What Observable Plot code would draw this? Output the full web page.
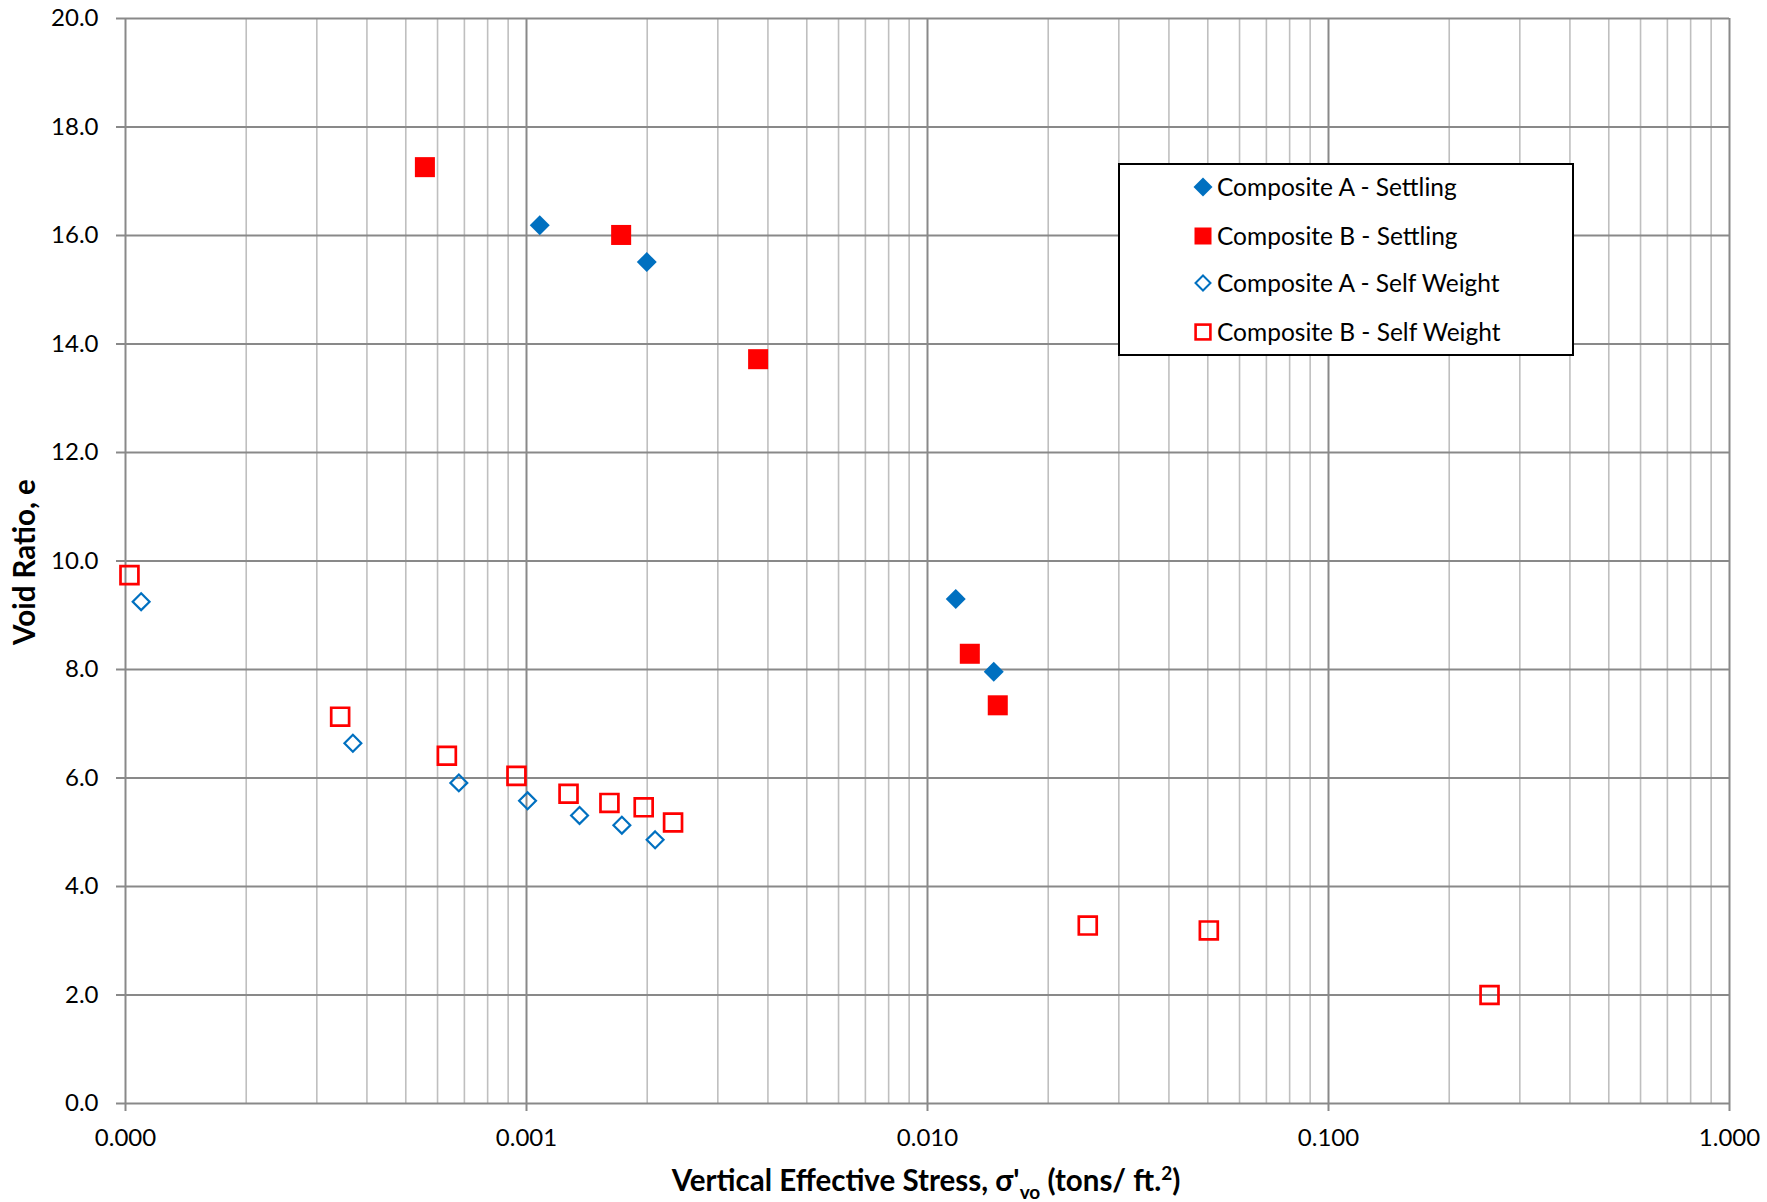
<!DOCTYPE html>
<html><head><meta charset="utf-8">
<script src="https://cdn.jsdelivr.net/npm/d3@7"></script>
<script src="https://cdn.jsdelivr.net/npm/@observablehq/plot@0.6"></script>
<style>
body{margin:0;background:#fff;}
#chart{position:relative;width:1767px;height:1202px;font-family:Lato,"Open Sans",sans-serif;}
#legend{position:absolute;left:1118px;top:163px;width:456px;height:193px;box-sizing:border-box;border:2px solid #000;background:#fff;}
.lrow{position:absolute;left:0;height:0;}
.lrow svg{position:absolute;left:72px;top:-11px;}
.lrow span{position:absolute;left:97px;top:-16px;font-size:24.5px;line-height:32px;white-space:nowrap;color:#000;}
</style></head><body><div id="chart"></div>
<script>
// Composite A - Settling
const aSetX = [0.001079, 0.001995, 0.01176, 0.01463];
const aSetY = [16.19, 15.51, 9.30, 7.96];
// Composite B - Settling
const bSetX = [0.000558, 0.001722, 0.003781, 0.01275, 0.01497];
const bSetY = [17.26, 16.01, 13.72, 8.29, 7.34];
// Composite A - Self Weight
const aSwX = [0.0001094, 0.000369, 0.000678, 0.001006, 0.001356, 0.001729, 0.002093];
const aSwY = [9.25, 6.64, 5.91, 5.58, 5.31, 5.13, 4.86];
// Composite B - Self Weight
const bSwX = [0.0001023, 0.000343, 0.000633, 0.000944, 0.001273, 0.00161, 0.00196, 0.00232, 0.0251, 0.0503, 0.2521];
const bSwY = [9.74, 7.13, 6.41, 6.04, 5.71, 5.54, 5.46, 5.18, 3.28, 3.19, 2.00];

const seriesNames = ["Composite A - Settling", "Composite B - Settling", "Composite A - Self Weight", "Composite B - Self Weight"];
const xTicks = [0.0001, 0.001, 0.01, 0.1, 1];
const xTickLabels = ["0.000", "0.001", "0.010", "0.100", "1.000"];
const yTicks = [0, 2, 4, 6, 8, 10, 12, 14, 16, 18, 20];
const yTickLabels = ["0.0", "2.0", "4.0", "6.0", "8.0", "10.0", "12.0", "14.0", "16.0", "18.0", "20.0"];
const minorMultipliers = [2, 3, 4, 5, 6, 7, 8, 9];

const BLUE = "#0070C0", RED = "#FF0000";
const minorX = xTicks.slice(0, -1).flatMap(d => minorMultipliers.map(m => d * m));
const toRows = (xs, ys) => xs.map((x, i) => ({x, y: ys[i]}));

const plot = Plot.plot({
  width: 1767, height: 1202,
  marginLeft: 125, marginRight: 38, marginTop: 18, marginBottom: 99,
  style: {fontFamily: "Lato, 'Open Sans', sans-serif", fontSize: "24px", color: "#000", background: "#fff"},
  x: {type: "log", domain: [0.0001, 1]},
  y: {domain: [0, 20]},
  marks: [
    Plot.ruleX(minorX, {stroke: "#bfbfbf", strokeWidth: 1.6}),
    Plot.ruleY(yTicks, {stroke: "#898989", strokeWidth: 2}),
    Plot.ruleX(xTicks, {stroke: "#898989", strokeWidth: 2}),
    Plot.axisX({ticks: xTicks, tickFormat: d => xTickLabels[xTicks.indexOf(d)], tickSize: 8, tickPadding: 17, stroke: "#898989", strokeWidth: 2, fill: "#000", label: null}),
    Plot.axisY({ticks: yTicks, tickFormat: d => yTickLabels[yTicks.indexOf(d)], tickSize: 9, tickPadding: 18, stroke: "#898989", strokeWidth: 2, fill: "#000", label: null}),
    Plot.dot(toRows(aSetX, aSetY), {x: "x", y: "y", symbol: "diamond2", r: 9, fill: BLUE, stroke: null}),
    Plot.dot(toRows(bSetX, bSetY), {x: "x", y: "y", symbol: "square", r: 11.3, fill: RED, stroke: null}),
    Plot.dot(toRows(aSwX, aSwY), {x: "x", y: "y", symbol: "diamond2", r: 7.6, fill: "none", stroke: BLUE, strokeWidth: 2.2}),
    Plot.dot(toRows(bSwX, bSwY), {x: "x", y: "y", symbol: "square", r: 10.1, fill: "none", stroke: RED, strokeWidth: 2.7})
  ]
});

const chart = document.getElementById("chart");
chart.appendChild(plot);

// Axis titles
const svg = d3.select(plot);
const xt = svg.append("text")
  .attr("x", 926).attr("y", 1191)
  .attr("text-anchor", "middle")
  .attr("font-family", "Lato, 'Open Sans', sans-serif")
  .attr("font-weight", "bold").attr("font-size", 29.5).attr("fill", "#000");
xt.append("tspan").text("Vertical Effective Stress, σ'");
xt.append("tspan").attr("font-size", 19).attr("dy", 8).text("vo");
xt.append("tspan").attr("dy", -8).text(" (tons/ ft.");
xt.append("tspan").attr("font-size", 19).attr("dy", -11).text("2");
xt.append("tspan").attr("dy", 11).text(")");

svg.append("text")
  .attr("transform", "translate(35,562) rotate(-90)")
  .attr("text-anchor", "middle")
  .attr("font-family", "Lato, 'Open Sans', sans-serif")
  .attr("font-weight", "bold").attr("font-size", 29.5).attr("fill", "#000")
  .text("Void Ratio, e");

// Legend
const legend = document.createElement("div");
legend.id = "legend";
const rowsY = [22.3, 70.7, 118.3, 166.7];
const icons = [
  `<path d="M11 1.5 L20.5 11 L11 20.5 L1.5 11 Z" fill="${BLUE}"/>`,
  `<rect x="2.5" y="2.5" width="17" height="17" fill="${RED}"/>`,
  `<path d="M11 3.5 L18.5 11 L11 18.5 L3.5 11 Z" fill="none" stroke="${BLUE}" stroke-width="2"/>`,
  `<rect x="3.6" y="3.6" width="14.8" height="14.8" fill="none" stroke="${RED}" stroke-width="2.6"/>`
];
seriesNames.forEach((name, i) => {
  const row = document.createElement("div");
  row.className = "lrow";
  row.style.top = rowsY[i] + "px";
  row.innerHTML = `<svg width="22" height="22" viewBox="0 0 22 22">${icons[i]}</svg><span>${name}</span>`;
  legend.appendChild(row);
});
chart.appendChild(legend);
</script>
</body></html>
